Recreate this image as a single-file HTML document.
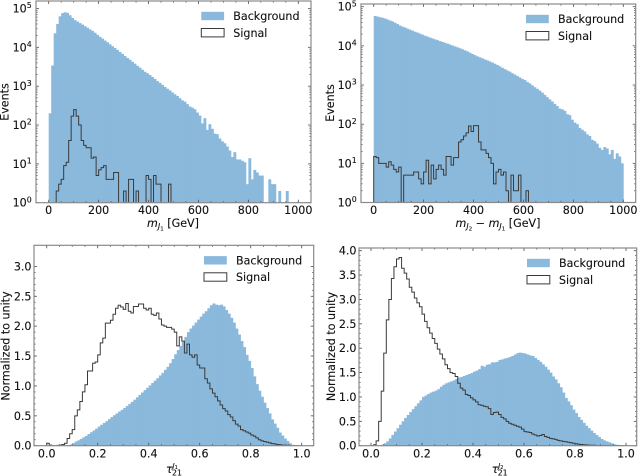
<!DOCTYPE html>
<html>
<head>
<meta charset="utf-8">
<title>Event distributions</title>
<style>
html,body{margin:0;padding:0;background:#fff;}
#figure{display:block;width:640px;height:476px;font-family:"DejaVu Sans","Liberation Sans",sans-serif;filter:blur(.3px);}
text{fill:#111;font-size:11.1px;stroke:#111;stroke-width:.12px;}
</style>
</head>
<body>
<svg id="figure" xmlns="http://www.w3.org/2000/svg" width="640" height="476" viewBox="0 0 640 476">
  <text x="173" y="227" text-anchor="middle"><tspan font-style="italic">m</tspan><tspan font-style="italic" font-size="7.9" dy="2">J</tspan><tspan font-size="5.6" dy="1.5">1</tspan><tspan dy="-3.5"> [GeV]</tspan></text>
  <text x="498" y="227" text-anchor="middle"><tspan font-style="italic">m</tspan><tspan font-style="italic" font-size="7.9" dy="2">J</tspan><tspan font-size="5.6" dy="1.5">2</tspan><tspan dy="-3.5"> − </tspan><tspan font-style="italic">m</tspan><tspan font-style="italic" font-size="7.9" dy="2">J</tspan><tspan font-size="5.6" dy="1.5">1</tspan><tspan dy="-3.5"> [GeV]</tspan></text>
  <text transform="translate(8.5,102) rotate(-90)" text-anchor="middle">Events</text>
  <text transform="translate(334,103) rotate(-90)" text-anchor="middle">Events</text>
  <text transform="translate(9.5,346) rotate(-90)" text-anchor="middle">Normalized to unity</text>
  <text transform="translate(335,346.5) rotate(-90)" text-anchor="middle">Normalized to unity</text>
  <g>
    <text x="166" y="473" font-style="italic">τ</text>
    <text x="172" y="475.3" style="font-size:7.8px">21</text>
    <text x="172.5" y="468" style="font-size:7px" font-style="italic">J<tspan font-size="5" dy="1" font-style="normal">1</tspan></text>
  </g>
  <g>
    <text x="491.7" y="473" font-style="italic">τ</text>
    <text x="497.7" y="475.3" style="font-size:7.8px">21</text>
    <text x="498.2" y="468" style="font-size:7px" font-style="italic">J<tspan font-size="5" dy="1" font-style="normal">2</tspan></text>
  </g>
</svg>
<script>
// ---------- chart data ----------
const massBinCount = 100;
const massJ1Background = [
  200,3400,23000,40000,63000,76000,80000,77000,67000,57000,
  50000,46000,42000,38500,35000,32000,29000,26500,23800,21000,
  18700,16800,15000,13500,12000,10700,9600,8600,7600,6800,
  6000,5350,4800,4250,3800,3350,3000,2650,2350,2150,
  1950,1720,1540,1350,1220,1080,960,860,780,690,
  620,560,490,430,400,345,300,280,255,210,
  175,110,150,75,105,80,60,58,45,38,
  34,28,22,15,20,13,13,12,11,3,
  14,4,7,6,5,5,0,0,4,3,
  3,0,2,0,0,2,0,0,0,0];
const massJ1Signal = [
  0,0,0,2,3,4,9,11,40,170,
  250,170,100,40,30,26,26,14,15,5,
  7,8,9,4,4,4,6,6,0,0,
  2,0,4,4,0,2,0,0,0,5,
  4,0,5,3,3,0,0,0,3,0,
  0,0,0,0,0,0,0,0,0,0,
  0,0,0,0,0,0,0,0,0,0,
  0,0,0,0,0,0,0,0,0,0,
  0,0,0,0,0,0,0,0,0,0,
  0,0,0,0,0,0,0,0,0,0];
const massDiffBackground = [
  58000,56000,54000,52000,50000,47000,44500,42000,39000,36000,
  33000,31000,29500,27500,26000,24500,23000,21800,20500,19300,
  18200,17200,16300,15500,14700,14000,13200,12600,12000,11400,
  10800,10200,9700,9200,8700,8200,7700,7200,6700,6200,
  5800,5400,5100,4800,4500,4250,4000,3750,3500,3250,
  3000,2750,2550,2350,2200,2000,1850,1700,1560,1440,
  1340,1200,1100,980,880,800,720,640,560,490,
  430,380,330,290,250,240,220,180,170,130,
  110,100,80,72,65,55,50,40,37,32,
  25,22,26,24,17,22,13,18,15,10];
const massDiffSignal = [
  15,14,10,10,10,8,11,9,7,6,
  8,0,5,5,5,5,6,6,4,3,
  6,12,3,9,4,7,9,7,5,15,
  15,9,14,14,35,40,50,60,90,65,
  92,92,35,22,22,18,14,10,3,6,
  7,5,6,2,0,5,2,2,5,0,
  0,2,0,0,0,0,0,0,0,0,
  0,0,0,0,0,0,0,0,0,0,
  0,0,0,0,0,0,0,0,0,0,
  0,0,0,0,0,0,0,0,0,0];
const tauJ1Background = [
  0,0,0,0,0,.001,.003,.006,.01,.02,
  .045,.07,.09,.115,.14,.165,.195,.225,.255,.285,
  .32,.35,.38,.41,.445,.48,.51,.54,.57,.60,
  .63,.665,.70,.735,.77,.81,.85,.89,.93,.97,
  1.01,1.05,1.09,1.13,1.175,1.22,1.27,1.32,1.38,1.45,
  1.53,1.60,1.67,1.74,1.82,1.90,1.96,2.01,2.06,2.11,
  2.16,2.21,2.25,2.30,2.35,2.38,2.36,2.35,2.36,2.33,
  2.27,2.21,2.14,2.06,1.96,1.86,1.75,1.65,1.52,1.42,
  1.30,1.16,1.03,.92,.82,.72,.63,.54,.44,.37,
  .30,.22,.17,.12,.08,.04,.015,.005,0,0];
const tauJ1Signal = [
  .04,.01,0,0,.005,.01,.02,.04,.12,.2,
  .27,.5,.6,.74,.9,1.02,1.25,1.25,1.38,1.4,
  1.52,1.72,1.8,2.05,2.05,2.1,2.2,2.3,2.35,2.32,
  2.28,2.38,2.25,2.22,2.33,2.33,2.37,2.37,2.3,2.27,
  2.3,2.2,2.18,2.22,2.12,2.02,2.0,1.98,1.98,1.95,
  1.9,1.67,1.82,1.75,1.55,1.7,1.52,1.48,1.52,1.35,
  1.3,1.3,1.12,1.05,.95,.88,.82,.75,.68,.62,
  .58,.52,.48,.42,.36,.33,.27,.25,.23,.21,
  .18,.16,.13,.1,.08,.07,.06,.05,.035,.03,
  .02,.015,.01,.01,.005,.003,0,0,0,0];
const tauJ2Background = [
  0,0,0,.002,.02,.05,.09,.15,.22,.29,
  .36,.43,.5,.57,.63,.69,.75,.81,.87,.93,
  1.0,1.03,1.06,1.09,1.11,1.13,1.16,1.21,1.25,1.28,
  1.3,1.32,1.34,1.37,1.4,1.41,1.43,1.45,1.47,1.49,
  1.52,1.54,1.57,1.64,1.62,1.66,1.67,1.71,1.71,1.72,
  1.76,1.77,1.79,1.8,1.82,1.84,1.87,1.9,1.91,1.9,
  1.89,1.87,1.85,1.84,1.8,1.76,1.72,1.67,1.62,1.56,
  1.5,1.42,1.36,1.28,1.2,1.09,.98,.91,.83,.74,
  .67,.59,.53,.47,.41,.36,.31,.26,.22,.18,
  .14,.11,.09,.07,.05,.03,.02,.01,.005,0];
const tauJ2Signal = [
  0,.02,.1,.5,1.12,1.9,2.58,3.0,3.43,3.67,
  3.83,3.86,3.64,3.54,3.42,3.25,3.15,3.03,2.93,2.85,
  2.7,2.55,2.42,2.31,2.2,2.1,1.98,1.88,1.78,1.66,
  1.58,1.5,1.48,1.42,1.28,1.18,1.14,1.05,1.03,.98,
  .94,.9,.84,.83,.81,.8,.76,.64,.68,.69,
  .64,.58,.55,.5,.46,.44,.42,.4,.38,.34,
  .29,.28,.27,.24,.22,.2,.21,.23,.19,.17,
  .15,.14,.13,.11,.1,.09,.08,.07,.06,.05,
  .04,.03,.025,.02,.015,.012,.01,.008,.005,.003,
  .002,.002,.001,.001,0,0,0,0,0,0];
const massTickValues = [0,200,400,600,800,1000];
const massTickLabels = ["0","200","400","600","800","1000"];
const logTickExponents = [0,1,2,3,4,5];
const tauXTickValues = [0,.2,.4,.6,.8,1];
const tauXTickLabels = ["0.0","0.2","0.4","0.6","0.8","1.0"];
const tauJ1YTickValues = [0,.5,1,1.5,2,2.5,3];
const tauJ1YTickLabels = ["0.0","0.5","1.0","1.5","2.0","2.5","3.0"];
const tauJ2YTickValues = [0,.5,1,1.5,2,2.5,3,3.5,4];
const tauJ2YTickLabels = ["0.0","0.5","1.0","1.5","2.0","2.5","3.0","3.5","4.0"];
const legendLabels = ["Background","Signal"];

// ---------- rendering ----------
const NS = 'http://www.w3.org/2000/svg';
const svg = document.getElementById('figure');
const BAR = '#8ab9dc', LINE = '#3a3a3a', SPINE = '#8a8a8a', TICK = '#555';

function node(tag, parent, attrs) {
  const el = document.createElementNS(NS, tag);
  for (const k in attrs) el.setAttribute(k, attrs[k]);
  parent.appendChild(el);
  return el;
}

function drawPanel(p) {
  const g = node('g', svg, {});
  
  

  const clip = node('clipPath', g, {id: p.name + '-clip'});
  node('rect', clip, {x: p.left, y: p.top, width: p.right - p.left, height: p.bottom - p.top});

  const xScale = v => p.x0 + (v - p.xMin) / (p.xMax - p.xMin) * (p.x1 - p.x0);
  const yScale = p.log
    ? v => p.y0 - Math.log10(Math.max(v, 0.1)) / 5 * (p.y0 - p.y1)
    : v => p.y0 - v / p.yMax * (p.y0 - p.y1);

  const marks = node('g', g, {'clip-path': 'url(#' + p.name + '-clip)'});
  const n = p.background.length;
  const binW = (p.xMax - p.xMin) / n;
  p.background.forEach((v, i) => {
    if (v <= 0) return;
    const a = xScale(p.xMin + i * binW), b = xScale(p.xMin + (i + 1) * binW);
    const top = yScale(v);
    const r = node('rect', marks, {x: a, y: top, width: b - a + 0.4, height: p.y0 - top + 2, fill: BAR});
    
    
  });

  let d = 'M' + xScale(p.xMin) + ' ' + yScale(0);
  p.signal.forEach((v, i) => {
    d += 'V' + yScale(v) + 'H' + xScale(p.xMin + (i + 1) * binW);
  });
  d += 'V' + yScale(0);
  const line = node('path', marks, {d: d, fill: 'none', stroke: LINE, 'stroke-width': 1, 'stroke-linejoin': 'miter'});
  
  

  function hTick(y, len) {
    node('line', g, {x1: p.left, x2: p.left + len, y1: y, y2: y, stroke: TICK, 'stroke-width': .8});
    node('line', g, {x1: p.right, x2: p.right - len, y1: y, y2: y, stroke: TICK, 'stroke-width': .8});
  }
  function vTick(x, len) {
    node('line', g, {x1: x, x2: x, y1: p.bottom, y2: p.bottom - len, stroke: TICK, 'stroke-width': .8});
    node('line', g, {x1: x, x2: x, y1: p.top, y2: p.top + len, stroke: TICK, 'stroke-width': .8});
  }

  // x ticks
  p.xMinorTicks().forEach(v => vTick(xScale(v), 1.6));
  p.xTicks.forEach((v, i) => {
    vTick(xScale(v), 3);
    const t = node('text', g, {x: xScale(v), y: p.xLabelY, 'text-anchor': 'middle'});
    
    
    t.textContent = p.xLabels[i];
  });

  // y ticks
  if (p.log) {
    logTickExponents.forEach(e => {
      const y = yScale(Math.pow(10, e));
      hTick(y, 3);
      if (e < 5) for (let m = 2; m < 10; m++) hTick(yScale(m * Math.pow(10, e)), 1.6);
      const t = node('text', g, {x: p.left - 4.3, y: y + 4, 'text-anchor': 'end'});
      
      
      t.appendChild(document.createTextNode('10'));
      const s = node('tspan', t, {'font-size': 7.8, dy: -4.3});
      s.textContent = String(e);
    });
  } else {
    for (let v = 0; v <= p.yMax + 1e-6; v += 0.1) hTick(yScale(v), 1.6);
    p.yTicks.forEach((v, i) => {
      const y = yScale(v);
      hTick(y, 3);
      const t = node('text', g, {x: p.left - 2.5, y: y + 4, 'text-anchor': 'end'});
      
      
      t.textContent = p.yLabels[i];
    });
  }

  // frame
  const frame = node('rect', g, {x: p.left, y: p.top, width: p.right - p.left, height: p.bottom - p.top, fill: 'none', stroke: SPINE, 'stroke-width': 1.2});
  
  

  // legend
  const lg = node('g', g, {});
  
  
  const hx = p.right - 109.7, tx = p.right - 77.7, ly = p.top + 10.8;
  const bgSwatch = node('rect', lg, {x: hx, y: ly, width: 22.8, height: 8.4, fill: BAR});
  
  
  const bgText = node('text', lg, {x: tx, y: ly + 8.3});
  
  
  bgText.textContent = legendLabels[0];
  const sigSwatch = node('rect', lg, {x: hx, y: ly + 16.7, width: 22.8, height: 8.4, fill: 'none', stroke: LINE, 'stroke-width': 1});
  
  
  const sigText = node('text', lg, {x: tx, y: ly + 25});
  
  
  sigText.textContent = legendLabels[1];
}

const massMinor = () => { const a = []; for (let v = 0; v <= 1000; v += 50) a.push(v); return a; };
const tauMinor = () => { const a = []; for (let i = 0; i <= 20; i++) a.push(i * 0.05); return a; };

drawPanel({name: 'mass-j1', log: true, left: 36, right: 311, top: 1, bottom: 202.7,
  x0: 48.7, x1: 298.3, xMin: 0, xMax: 1000, y0: 202.7, y1: 8.5,
  background: massJ1Background, signal: massJ1Signal,
  xTicks: massTickValues, xLabels: massTickLabels, xMinorTicks: massMinor, xLabelY: 214});
drawPanel({name: 'mass-diff', log: true, left: 361, right: 635.7, top: 4, bottom: 202.5,
  x0: 373.7, x1: 623.3, xMin: 0, xMax: 1000, y0: 202.5, y1: 6.7,
  background: massDiffBackground, signal: massDiffSignal,
  xTicks: massTickValues, xLabels: massTickLabels, xMinorTicks: massMinor, xLabelY: 214});
drawPanel({name: 'tau-j1', log: false, left: 34, right: 313.7, top: 245.3, bottom: 445.7,
  x0: 46.7, x1: 301.7, xMin: 0, xMax: 1, y0: 445.7, y1: 266.4, yMax: 3,
  background: tauJ1Background, signal: tauJ1Signal,
  xTicks: tauXTickValues, xLabels: tauXTickLabels, xMinorTicks: tauMinor, xLabelY: 457.5,
  yTicks: tauJ1YTickValues, yLabels: tauJ1YTickLabels});
drawPanel({name: 'tau-j2', log: false, left: 359, right: 636.7, top: 248, bottom: 445.7,
  x0: 371, x1: 626, xMin: 0, xMax: 1, y0: 445.7, y1: 250.7, yMax: 4,
  background: tauJ2Background, signal: tauJ2Signal,
  xTicks: tauXTickValues, xLabels: tauXTickLabels, xMinorTicks: tauMinor, xLabelY: 457.5,
  yTicks: tauJ2YTickValues, yLabels: tauJ2YTickLabels});
</script>
</body>
</html>
